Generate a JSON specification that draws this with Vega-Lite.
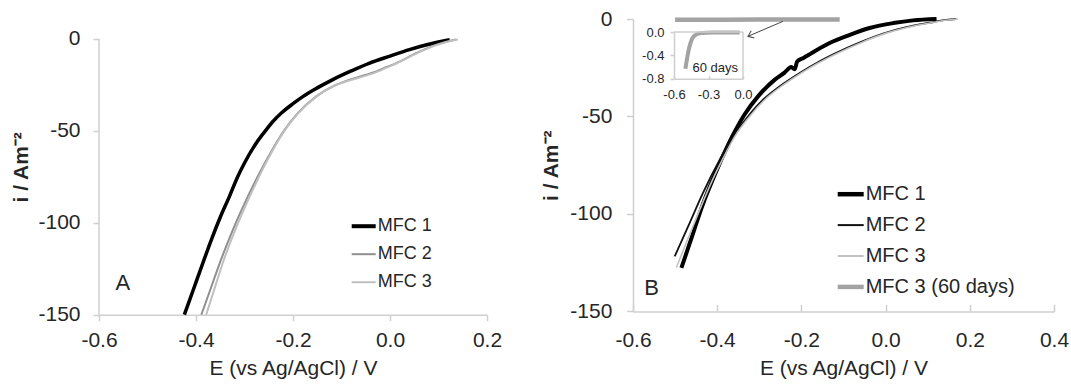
{
  "$schema": "https://vega.github.io/schema/vega-lite/v6.json",
  "padding": {"left": 10, "top": 8, "right": 0, "bottom": 0},
  "bounds": "flush",
  "spacing": 146,
  "config": {
    "font": "Liberation Sans",
    "view": {"stroke": null},
    "locale": {"number": {"decimal": ".", "thousands": ",", "grouping": [3], "currency": ["$", ""], "minus": "-"}},
    "axis": {
      "grid": false,
      "domainColor": "#cfcfcf",
      "domainWidth": 1.5,
      "tickColor": "#cfcfcf",
      "tickWidth": 1.5,
      "labelFont": "Liberation Sans",
      "labelFontSize": 21,
      "labelColor": "#262626",
      "labelFlush": false,
      "labelOverlap": false,
      "titleFont": "Liberation Sans",
      "titleFontSize": 21,
      "titleColor": "#262626"
    },
    "legend": {
      "orient": "none",
      "title": null,
      "symbolType": "stroke",
      "labelFont": "Liberation Sans",
      "labelColor": "#262626",
      "labelOffset": 5,
      "padding": 0
    }
  },
  "datasets": {
    "a": [
      {"series": "MFC 1", "E": -0.424, "i": -150}, {"series": "MFC 1", "E": -0.405, "i": -136}, {"series": "MFC 1", "E": -0.386, "i": -122},
      {"series": "MFC 1", "E": -0.368, "i": -109}, {"series": "MFC 1", "E": -0.35, "i": -97}, {"series": "MFC 1", "E": -0.331, "i": -85.6},
      {"series": "MFC 1", "E": -0.315, "i": -75.5}, {"series": "MFC 1", "E": -0.3, "i": -67.5}, {"series": "MFC 1", "E": -0.278, "i": -57.5},
      {"series": "MFC 1", "E": -0.255, "i": -49.3}, {"series": "MFC 1", "E": -0.24, "i": -44.5}, {"series": "MFC 1", "E": -0.224, "i": -40.3},
      {"series": "MFC 1", "E": -0.2, "i": -35.2}, {"series": "MFC 1", "E": -0.179, "i": -31.2}, {"series": "MFC 1", "E": -0.15, "i": -26.6},
      {"series": "MFC 1", "E": -0.118, "i": -22.1}, {"series": "MFC 1", "E": -0.08, "i": -17.4}, {"series": "MFC 1", "E": -0.042, "i": -13.1},
      {"series": "MFC 1", "E": 0.0, "i": -9.3}, {"series": "MFC 1", "E": 0.04, "i": -5.8}, {"series": "MFC 1", "E": 0.08, "i": -2.9},
      {"series": "MFC 1", "E": 0.105, "i": -1.4}, {"series": "MFC 1", "E": 0.123, "i": -0.4},
      {"series": "MFC 2", "E": -0.389, "i": -150}, {"series": "MFC 2", "E": -0.37, "i": -136}, {"series": "MFC 2", "E": -0.351, "i": -121.9},
      {"series": "MFC 2", "E": -0.324, "i": -103.8}, {"series": "MFC 2", "E": -0.293, "i": -85.6}, {"series": "MFC 2", "E": -0.258, "i": -67.5},
      {"series": "MFC 2", "E": -0.217, "i": -49.3}, {"series": "MFC 2", "E": -0.19, "i": -40.3}, {"series": "MFC 2", "E": -0.152, "i": -31.2},
      {"series": "MFC 2", "E": -0.118, "i": -25.8}, {"series": "MFC 2", "E": -0.083, "i": -22.1}, {"series": "MFC 2", "E": -0.049, "i": -19.4},
      {"series": "MFC 2", "E": -0.028, "i": -17.6}, {"series": "MFC 2", "E": -0.008, "i": -15.4}, {"series": "MFC 2", "E": 0.013, "i": -13.1},
      {"series": "MFC 2", "E": 0.055, "i": -7.6}, {"series": "MFC 2", "E": 0.096, "i": -3.1}, {"series": "MFC 2", "E": 0.12, "i": -1.2},
      {"series": "MFC 2", "E": 0.136, "i": -0.3},
      {"series": "MFC 3", "E": -0.379, "i": -150}, {"series": "MFC 3", "E": -0.362, "i": -136}, {"series": "MFC 3", "E": -0.345, "i": -122},
      {"series": "MFC 3", "E": -0.319, "i": -103.8}, {"series": "MFC 3", "E": -0.289, "i": -85.6}, {"series": "MFC 3", "E": -0.256, "i": -67.5},
      {"series": "MFC 3", "E": -0.216, "i": -49.3}, {"series": "MFC 3", "E": -0.189, "i": -40.3}, {"series": "MFC 3", "E": -0.151, "i": -31.2},
      {"series": "MFC 3", "E": -0.117, "i": -25.8}, {"series": "MFC 3", "E": -0.082, "i": -22.4}, {"series": "MFC 3", "E": -0.048, "i": -19.8},
      {"series": "MFC 3", "E": -0.027, "i": -17.9}, {"series": "MFC 3", "E": -0.007, "i": -15.6}, {"series": "MFC 3", "E": 0.014, "i": -13.2},
      {"series": "MFC 3", "E": 0.056, "i": -7.7}, {"series": "MFC 3", "E": 0.097, "i": -3.2}, {"series": "MFC 3", "E": 0.122, "i": -1.3},
      {"series": "MFC 3", "E": 0.14, "i": -0.3}
    ],
    "b": [
      {"series": "MFC 1", "E": -0.485, "i": -127.7}, {"series": "MFC 1", "E": -0.465, "i": -114.9}, {"series": "MFC 1", "E": -0.434, "i": -95},
      {"series": "MFC 1", "E": -0.4, "i": -77}, {"series": "MFC 1", "E": -0.366, "i": -61}, {"series": "MFC 1", "E": -0.335, "i": -49},
      {"series": "MFC 1", "E": -0.303, "i": -39.7}, {"series": "MFC 1", "E": -0.263, "i": -31.1}, {"series": "MFC 1", "E": -0.24, "i": -27.5},
      {"series": "MFC 1", "E": -0.224, "i": -24.6}, {"series": "MFC 1", "E": -0.216, "i": -25.8}, {"series": "MFC 1", "E": -0.21, "i": -21.8},
      {"series": "MFC 1", "E": -0.195, "i": -20}, {"series": "MFC 1", "E": -0.176, "i": -17.5}, {"series": "MFC 1", "E": -0.133, "i": -12.3},
      {"series": "MFC 1", "E": -0.085, "i": -8.1}, {"series": "MFC 1", "E": -0.038, "i": -4.6}, {"series": "MFC 1", "E": 0.018, "i": -2.1},
      {"series": "MFC 1", "E": 0.065, "i": -0.7}, {"series": "MFC 1", "E": 0.121, "i": 0},
      {"series": "MFC 2", "E": -0.501, "i": -121.8}, {"series": "MFC 2", "E": -0.469, "i": -106.4}, {"series": "MFC 2", "E": -0.434, "i": -89.3},
      {"series": "MFC 2", "E": -0.394, "i": -72.2}, {"series": "MFC 2", "E": -0.362, "i": -60.2}, {"series": "MFC 2", "E": -0.327, "i": -50},
      {"series": "MFC 2", "E": -0.291, "i": -41.4}, {"series": "MFC 2", "E": -0.252, "i": -34.6}, {"series": "MFC 2", "E": -0.204, "i": -27.7},
      {"series": "MFC 2", "E": -0.164, "i": -22.6}, {"series": "MFC 2", "E": -0.117, "i": -17.4}, {"series": "MFC 2", "E": -0.061, "i": -12.0},
      {"series": "MFC 2", "E": -0.006, "i": -7.5}, {"series": "MFC 2", "E": 0.049, "i": -4.2}, {"series": "MFC 2", "E": 0.105, "i": -1.9},
      {"series": "MFC 2", "E": 0.144, "i": -0.5}, {"series": "MFC 2", "E": 0.168, "i": 0},
      {"series": "MFC 3", "E": -0.497, "i": -127.5}, {"series": "MFC 3", "E": -0.47, "i": -113}, {"series": "MFC 3", "E": -0.44, "i": -97},
      {"series": "MFC 3", "E": -0.41, "i": -82}, {"series": "MFC 3", "E": -0.385, "i": -71}, {"series": "MFC 3", "E": -0.358, "i": -60.2},
      {"series": "MFC 3", "E": -0.323, "i": -50}, {"series": "MFC 3", "E": -0.287, "i": -41.4}, {"series": "MFC 3", "E": -0.248, "i": -34.6},
      {"series": "MFC 3", "E": -0.2, "i": -27.7}, {"series": "MFC 3", "E": -0.16, "i": -22.6}, {"series": "MFC 3", "E": -0.113, "i": -17.4},
      {"series": "MFC 3", "E": -0.057, "i": -12.0}, {"series": "MFC 3", "E": -0.002, "i": -7.5}, {"series": "MFC 3", "E": 0.053, "i": -4.2},
      {"series": "MFC 3", "E": 0.109, "i": -1.9}, {"series": "MFC 3", "E": 0.148, "i": -0.5}, {"series": "MFC 3", "E": 0.172, "i": 0},
      {"series": "MFC 3 (60 days)", "E": -0.5, "i": -0.4}, {"series": "MFC 3 (60 days)", "E": -0.3, "i": -0.3}, {"series": "MFC 3 (60 days)", "E": -0.109, "i": -0.3}
    ],
    "inset": [
      {"E": -0.501, "i": -0.629}, {"E": -0.49, "i": -0.5}, {"E": -0.478, "i": -0.36}, {"E": -0.457, "i": -0.19},
      {"E": -0.429, "i": -0.075}, {"E": -0.377, "i": -0.02}, {"E": -0.261, "i": -0.01}, {"E": -0.029, "i": -0.01}
    ]
  },
  "hconcat": [
    {
      "width": 388,
      "height": 295.7,
      "layer": [
        {
          "data": {"name": "a"},
          "mark": {"type": "line", "interpolate": "monotone"},
          "encoding": {
            "x": {"field": "E", "type": "quantitative",
              "scale": {"domain": [-0.6, 0.2], "nice": false, "zero": false},
              "axis": {"values": [-0.6, -0.4, -0.2, 0, 0.2], "format": ".1f", "tickSize": 6, "labelPadding": 9, "title": "E (vs Ag/AgCl) / V", "titleFontWeight": "normal", "titlePadding": 7}},
            "y": {"field": "i", "type": "quantitative",
              "scale": {"domain": [-150, 10.87], "nice": false, "zero": false},
              "axis": {"values": [-150, -100, -50, 0], "format": "d", "domain": false, "tickSize": 6, "labelPadding": 13, "title": "i / Am⁻²", "titleFontWeight": "bold", "titlePadding": 6}},
            "color": {"field": "series", "type": "nominal",
              "scale": {"domain": ["MFC 1", "MFC 2", "MFC 3"], "range": ["#000000", "#8f8f8f", "#bfbfbf"]},
              "legend": {"legendX": 255.7, "legendY": 198.2, "labelFontSize": 18, "symbolSize": 576, "rowPadding": 10,
                "symbolStrokeWidth": {"expr": "datum.value === 'MFC 1' ? 4 : 2"},
                "encoding": {"symbols": {"strokeWidth": {"value": {"expr": "datum.value === 'MFC 1' ? 4 : 2"}}}}}},
            "strokeWidth": {"condition": {"test": "(datum.series || datum.value) === 'MFC 1'", "value": 3.5}, "value": 2}
          }
        },
        {
          "data": {"values": [{"E": -0.6, "i": -150, "i2": 0}]},
          "mark": {"type": "rule", "color": "#cfcfcf", "strokeWidth": 1.5},
          "encoding": {
            "x": {"field": "E", "type": "quantitative"},
            "y": {"field": "i", "type": "quantitative"},
            "y2": {"field": "i2"}
          }
        },
        {
          "data": {"values": [{"E": -0.551, "i": -132.8, "label": "A"}]},
          "mark": {"type": "text", "fontSize": 22, "color": "#262626", "font": "Liberation Sans"},
          "encoding": {
            "x": {"field": "E", "type": "quantitative"},
            "y": {"field": "i", "type": "quantitative"},
            "text": {"field": "label"}
          }
        }
      ]
    },
    {
      "width": 421,
      "height": 292.4,
      "layer": [
        {
          "layer": [
            {
              "data": {"name": "b"},
              "mark": {"type": "line", "interpolate": "monotone"},
              "encoding": {
                "x": {"field": "E", "type": "quantitative",
                  "scale": {"domain": [-0.6, 0.4], "nice": false, "zero": false},
                  "axis": {"values": [-0.6, -0.4, -0.2, 0, 0.2, 0.4], "format": ".1f", "tickSize": -7, "labelPadding": 25, "title": "E (vs Ag/AgCl) / V", "titleFontWeight": "normal", "titlePadding": 7}},
                "y": {"field": "i", "type": "quantitative",
                  "scale": {"domain": [-150, 0], "nice": false, "zero": false},
                  "axis": {"values": [-150, -100, -50, 0], "format": "d", "tickSize": 6.6, "labelPadding": 14.5, "title": "i / Am⁻²", "titleFontWeight": "bold", "titlePadding": 8}},
                "color": {"field": "series", "type": "nominal",
                  "scale": {"domain": ["MFC 1", "MFC 2", "MFC 3", "MFC 3 (60 days)"], "range": ["#000000", "#111111", "#c2c2c2", "#a3a3a3"]},
                  "legend": {"legendX": 207.7, "legendY": 165.2, "labelFontSize": 20, "symbolSize": 676, "rowPadding": 10.9,
                    "symbolStrokeWidth": {"expr": "datum.value === 'MFC 1' || datum.value === 'MFC 3 (60 days)' ? 4.5 : 2"},
                    "encoding": {"symbols": {"strokeWidth": {"value": {"expr": "datum.value === 'MFC 1' || datum.value === 'MFC 3 (60 days)' ? 4.5 : 2"}}}}}},
                "strokeWidth": {
                  "condition": [
                    {"test": "(datum.series || datum.value) === 'MFC 1'", "value": 4},
                    {"test": "(datum.series || datum.value) === 'MFC 3 (60 days)'", "value": 4.5},
                    {"test": "(datum.series || datum.value) === 'MFC 2'", "value": 1.8}
                  ],
                  "value": 1.6
                }
              }
            },
            {
              "data": {"values": [{"E": -0.2437, "i": -1.2, "E2": -0.327, "i2": -8.9}]},
              "mark": {"type": "rule", "color": "#444444", "strokeWidth": 1},
              "encoding": {
                "x": {"field": "E", "type": "quantitative"},
                "y": {"field": "i", "type": "quantitative"},
                "x2": {"field": "E2"},
                "y2": {"field": "i2"}
              }
            },
            {
              "data": {"values": [{"E": -0.327, "i": -8.9}]},
              "mark": {"type": "point", "shape": "M-1,-0.75L0,0L-1,0.75", "filled": false, "stroke": "#444444", "strokeWidth": 1, "size": 110, "angle": 157, "opacity": 1},
              "encoding": {
                "x": {"field": "E", "type": "quantitative"},
                "y": {"field": "i", "type": "quantitative"}
              }
            },
            {
              "data": {"values": [{"E": -0.556, "i": -138, "label": "B"}]},
              "mark": {"type": "text", "fontSize": 22, "color": "#262626", "font": "Liberation Sans"},
              "encoding": {
                "x": {"field": "E", "type": "quantitative"},
                "y": {"field": "i", "type": "quantitative"},
                "text": {"field": "label"}
              }
            }
          ]
        },
        {
          "layer": [
            {
              "data": {"name": "inset"},
              "mark": {"type": "line", "interpolate": "monotone", "color": "#a3a3a3", "strokeWidth": 4},
              "encoding": {
                "x": {"field": "E", "type": "quantitative",
                  "scale": {"domain": [-0.6, 0], "range": [41, 110], "nice": false, "zero": false},
                  "axis": {"orient": "bottom", "offset": -232.7, "values": [-0.6, -0.3, 0], "format": ".1f", "labelFontSize": 13, "tickSize": -3, "labelPadding": 13, "title": null}},
                "y": {"field": "i", "type": "quantitative",
                  "scale": {"domain": [-0.8, 0], "range": [59.7, 13], "nice": false, "zero": false},
                  "axis": {"orient": "left", "offset": -41, "values": [-0.8, -0.4, 0], "format": ".1f", "labelFontSize": 13, "tickSize": 4, "labelPadding": 6, "title": null}}
              }
            },
            {
              "data": {"values": [{"E": -0.6, "E2": 0, "i": 0, "i2": 0}, {"E": 0, "E2": 0, "i": -0.8, "i2": 0}]},
              "mark": {"type": "rule", "color": "#cfcfcf", "strokeWidth": 1.5},
              "encoding": {
                "x": {"field": "E", "type": "quantitative"},
                "y": {"field": "i", "type": "quantitative"},
                "x2": {"field": "E2"},
                "y2": {"field": "i2"}
              }
            },
            {
              "data": {"values": [{"E": -0.241, "i": -0.617, "label": "60 days"}]},
              "mark": {"type": "text", "fontSize": 13, "color": "#262626", "font": "Liberation Sans"},
              "encoding": {
                "x": {"field": "E", "type": "quantitative"},
                "y": {"field": "i", "type": "quantitative"},
                "text": {"field": "label"}
              }
            }
          ]
        }
      ],
      "resolve": {"scale": {"x": "independent", "y": "independent"}}
    }
  ],
  "resolve": {"scale": {"color": "independent"}, "legend": {"color": "independent"}}
}
